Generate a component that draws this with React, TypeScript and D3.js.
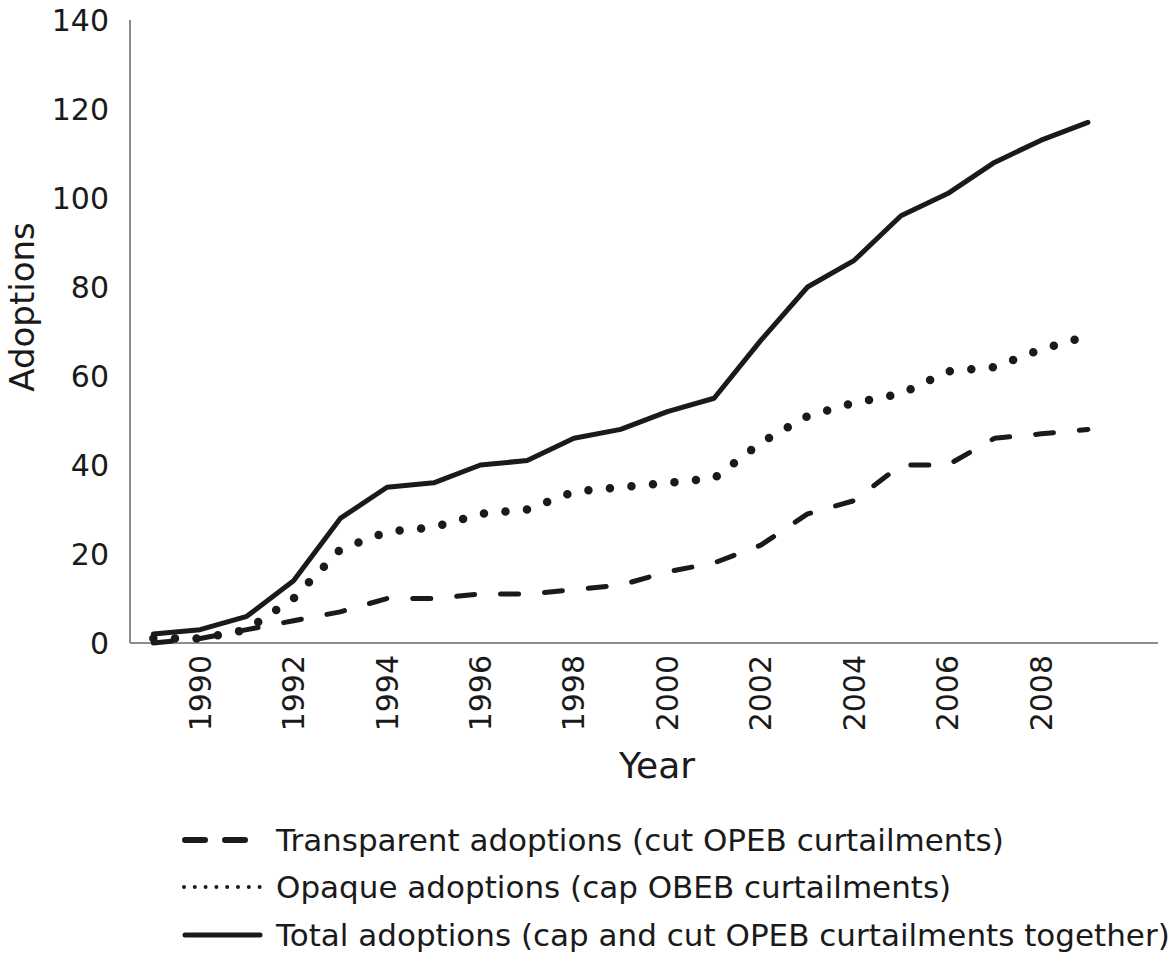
import React, { useEffect, useRef } from 'react';
import * as d3 from 'd3';

const years = d3.range(1989, 2010);
const tickYears = [1990, 1992, 1994, 1996, 1998, 2000, 2002, 2004, 2006, 2008];
const yTicks = [0, 20, 40, 60, 80, 100, 120, 140];

const transparent = [0, 1, 3, 5, 7, 10, 10, 11, 11, 12, 13, 16, 18, 22, 29, 32, 40, 40, 46, 47, 48];
const opaque = [1, 1, 3, 10, 21, 25, 26, 29, 30, 34, 35, 36, 37, 45, 51, 54, 56, 61, 62, 66, 69];
const total = [2, 3, 6, 14, 28, 35, 36, 40, 41, 46, 48, 52, 55, 68, 80, 86, 96, 101, 108, 113, 117];

const legendLabels = [
  'Transparent adoptions (cut OPEB curtailments)',
  'Opaque adoptions (cap OBEB curtailments)',
  'Total adoptions (cap and cut OPEB curtailments together)',
];

const ink = '#1a1a1a';
const font = '"DejaVu Sans", sans-serif';

const App: React.FC = () => {
  const svgRef = useRef<SVGSVGElement>(null);

  useEffect(() => {
    if (!svgRef.current) return;
    const svg = d3.select(svgRef.current);
    svg.selectAll('*').remove();

    const left = 130;
    const right = 1158;
    const top = 20;
    const bottom = 643;

    const x = d3.scaleLinear().domain([1988.5, 2010.5]).range([left, right]);
    const y = d3.scaleLinear().domain([0, 140]).range([bottom, top]);

    // axes
    svg.append('line')
      .attr('x1', left).attr('x2', left).attr('y1', top).attr('y2', bottom)
      .attr('stroke', '#8c8c8c').attr('stroke-width', 2);
    svg.append('line')
      .attr('x1', left).attr('x2', right).attr('y1', bottom).attr('y2', bottom)
      .attr('stroke', '#8c8c8c').attr('stroke-width', 2);

    yTicks.forEach(t => {
      svg.append('text')
        .attr('x', 109).attr('y', y(t))
        .attr('text-anchor', 'end').attr('dominant-baseline', 'central')
        .attr('font-family', font).attr('font-size', 30).attr('fill', ink)
        .text(t);
    });

    tickYears.forEach(t => {
      svg.append('text')
        .attr('transform', `translate(${x(t)},655) rotate(-90)`)
        .attr('text-anchor', 'end').attr('dominant-baseline', 'central')
        .attr('font-family', font).attr('font-size', 30).attr('fill', ink)
        .text(t);
    });

    svg.append('text')
      .attr('transform', 'translate(22,307) rotate(-90)')
      .attr('text-anchor', 'middle').attr('dominant-baseline', 'central')
      .attr('font-family', font).attr('font-size', 34).attr('fill', ink)
      .text('Adoptions');

    svg.append('text')
      .attr('x', 657).attr('y', 765)
      .attr('text-anchor', 'middle').attr('dominant-baseline', 'central')
      .attr('font-family', font).attr('font-size', 36).attr('fill', ink)
      .text('Year');

    const line = d3.line<number>()
      .x((_d, i) => x(years[i]))
      .y(d => y(d));

    const styles = [
      { data: transparent, width: 5, dash: '18 26', cap: 'round' },
      { data: opaque, width: 8.5, dash: '0 21.6', cap: 'round' },
      { data: total, width: 5, dash: null, cap: 'round' },
    ];

    styles.forEach(s => {
      const p = svg.append('path')
        .datum(s.data)
        .attr('d', line)
        .attr('fill', 'none')
        .attr('stroke', ink)
        .attr('stroke-width', s.width)
        .attr('stroke-linecap', s.cap)
        .attr('stroke-linejoin', 'round');
      if (s.dash) p.attr('stroke-dasharray', s.dash);
    });

    // legend
    const legendY = [840, 887, 935];
    const samples = [
      { width: 6, dash: '20 20', cap: 'round' },
      { width: 4, dash: '0 10.8', cap: 'round' },
      { width: 5, dash: null, cap: 'round' },
    ];
    legendLabels.forEach((label, i) => {
      const s = samples[i];
      const l = svg.append('line')
        .attr('x1', i === 1 ? 184 : 185).attr('x2', 260)
        .attr('y1', legendY[i]).attr('y2', legendY[i])
        .attr('stroke', ink).attr('stroke-width', s.width)
        .attr('stroke-linecap', s.cap);
      if (s.dash) l.attr('stroke-dasharray', s.dash);
      svg.append('text')
        .attr('x', 276).attr('y', legendY[i])
        .attr('dominant-baseline', 'central')
        .attr('font-family', font).attr('font-size', 31).attr('fill', ink)
        .text(label);
    });
  }, []);

  return (
    <svg
      ref={svgRef}
      width="1172"
      height="957"
      style={{ position: 'absolute', left: 0, top: 0, background: '#fff' }}
      role="img"
      aria-label="Adoptions by year: transparent, opaque and total"
    />
  );
};

export default App;
